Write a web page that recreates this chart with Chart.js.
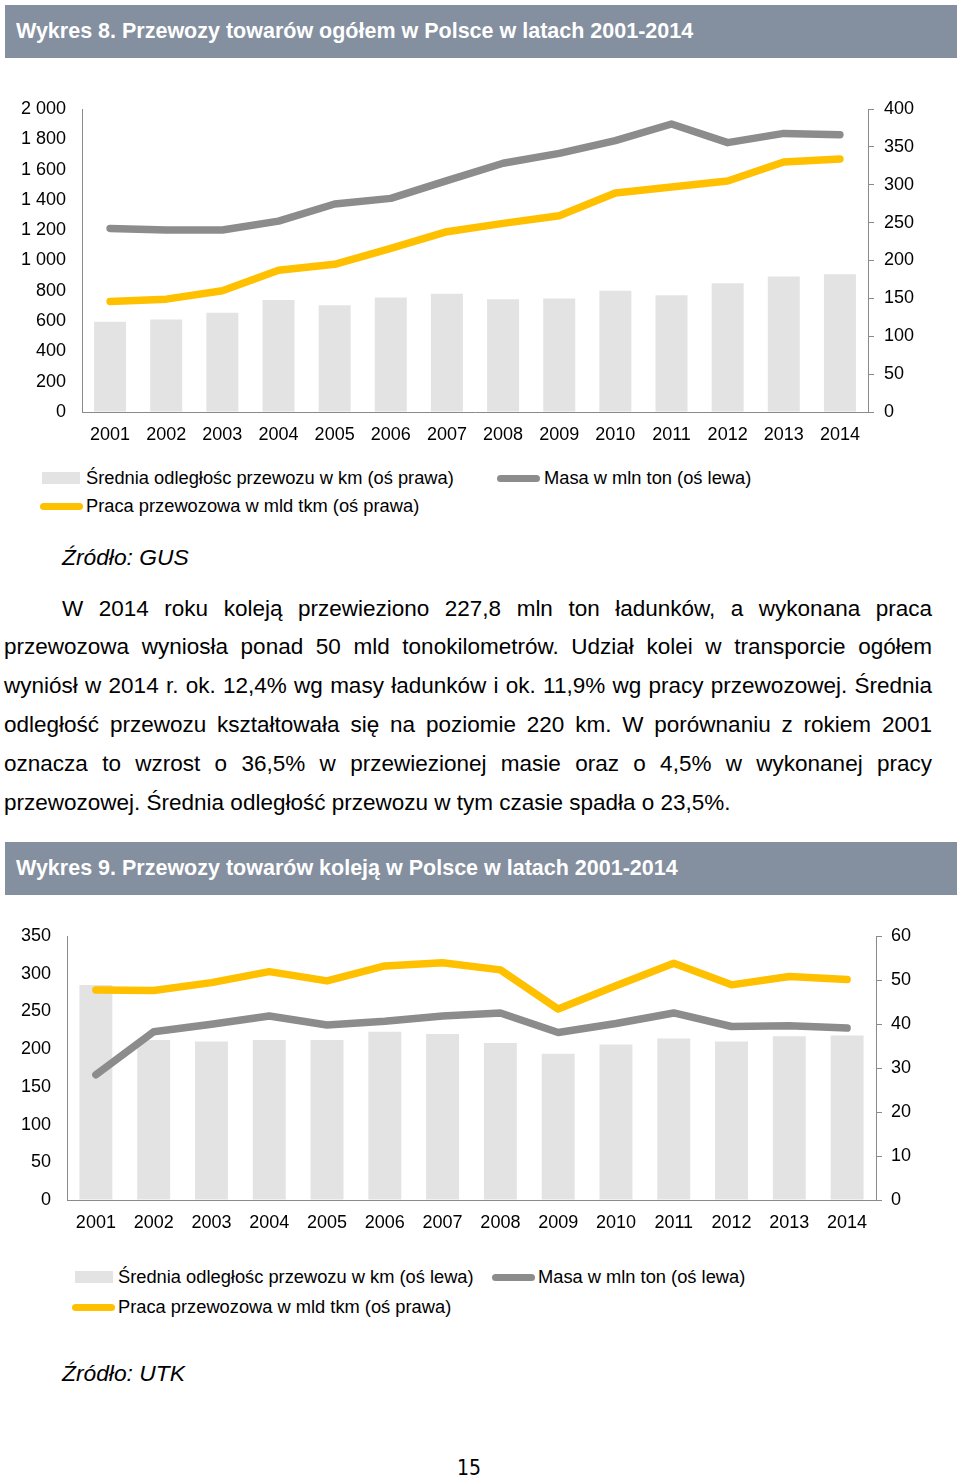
<!DOCTYPE html>
<html lang="pl">
<head>
<meta charset="UTF-8">
<title>Przewozy towarów 2001-2014</title>
<script src="https://cdn.jsdelivr.net/npm/chart.js"></script>
<style>
  html, body { margin: 0; padding: 0; background: #fff; }
  body { position: relative; width: 960px; height: 1478px; overflow: hidden;
         font-family: "Liberation Sans", Arial, sans-serif; color: #000; }
  .band { position: absolute; left: 5px; width: 952px; height: 53px; background: #848f9f;
          color: #fff; font-weight: bold; font-size: 21.5px; line-height: 53px;
          padding-left: 11px; box-sizing: border-box; }
  .box { position: absolute; left: 0; width: 960px; }
  .box canvas { display: block; }
  .legend-item { position: absolute; font-size: 18.3px; line-height: 20px; white-space: nowrap; }
  .sw { position: absolute; }
  .src { position: absolute; left: 62px; font-style: italic; font-size: 22.8px; }
  .para div { position: absolute; font-size: 22.5px; line-height: 24px; white-space: nowrap;
              text-align: justify; text-align-last: justify; }
  .para div.last { text-align-last: left; }
  .pnum { position: absolute; left: 457px; top: 1456px; font-size: 21px;
          font-family: "Liberation Sans Narrow", "DejaVu Sans Condensed", sans-serif; }
</style>
</head>
<body>

<div class="band" style="top:5px">Wykres 8. Przewozy towarów ogółem w Polsce w latach 2001-2014</div>
<div class="box" style="top:90px;height:360px"><canvas id="chart1" width="960" height="360"></canvas></div>
<div id="legend1"></div>
<div class="src" style="top:544px">Źródło: GUS</div>

<div class="para">
  <div style="left:62px;width:870px;top:597px">W 2014 roku koleją przewieziono 227,8 mln ton ładunków, a wykonana praca</div>
  <div style="left:4px;width:928px;top:635px">przewozowa wyniosła ponad 50 mld tonokilometrów. Udział kolei w transporcie ogółem</div>
  <div style="left:4px;width:928px;top:674px">wyniósł w 2014 r. ok. 12,4% wg masy ładunków i ok. 11,9% wg pracy przewozowej. Średnia</div>
  <div style="left:4px;width:928px;top:713px">odległość przewozu kształtowała się na poziomie 220 km. W porównaniu z rokiem 2001</div>
  <div style="left:4px;width:928px;top:752px">oznacza to wzrost o 36,5% w przewiezionej masie oraz o 4,5% w wykonanej pracy</div>
  <div class="last" style="left:4px;top:791px">przewozowej. Średnia odległość przewozu w tym czasie spadła o 23,5%.</div>
</div>

<div class="band" style="top:842px">Wykres 9. Przewozy towarów koleją w Polsce w latach 2001-2014</div>
<div class="box" style="top:915px;height:330px"><canvas id="chart2" width="960" height="330"></canvas></div>
<div id="legend2"></div>
<div class="src" style="top:1360px">Źródło: UTK</div>

<div class="pnum">15</div>

<script>
// lata
const years = ["2001","2002","2003","2004","2005","2006","2007","2008","2009","2010","2011","2012","2013","2014"];

// Wykres 8 - ogółem
const masaOgolem = [1212, 1201, 1201, 1260, 1373, 1410, 1527, 1642, 1707, 1791, 1901, 1778, 1839, 1830];
const pracaOgolem = [146, 149, 160, 187, 195, 216, 238, 249, 259, 289, 297, 305, 330, 334];
const odlegloscOgolem = [119, 122, 131, 148, 141, 151, 156, 149, 150, 160, 154, 170, 179, 182];
const leftAxis1 = { min: 0, max: 2000, step: 200 };
const rightAxis1 = { min: 0, max: 400, step: 50 };

// Wykres 9 - kolej
const masaKolej = [166, 223, 233, 244, 232, 237, 244, 248, 222, 234, 248, 230, 231, 228];
const pracaKolej = [47.7, 47.6, 49.4, 51.9, 49.8, 53.2, 53.9, 52.3, 43.4, 48.7, 53.8, 48.9, 50.8, 50.1];
const odlegloscKolej = [285, 212, 210, 212, 212, 223, 220, 208, 194, 206, 214, 210, 217, 218];
const leftAxis2 = { min: 0, max: 350, step: 50 };
const rightAxis2 = { min: 0, max: 60, step: 10 };

const BAR = "#e3e3e3", GREY = "#8c8c8c", YELLOW = "#ffc000", AXIS = "#8a8a8a";

Chart.defaults.font.family = '"Liberation Sans", Arial, sans-serif';
Chart.defaults.font.size = 18;
Chart.defaults.color = "#000";

function spaced(v) {
  return String(v).replace(/\B(?=(\d{3})+(?!\d))/g, " ");
}

function lineSet(label, data, color, axis, order) {
  return { type: "line", label: label, data: data, yAxisID: axis, order: order,
           borderColor: color, backgroundColor: color, borderWidth: 7.5,
           borderCapStyle: "round", borderJoinStyle: "round",
           pointRadius: 0, tension: 0, fill: false };
}
function barSet(label, data, axis) {
  return { type: "bar", label: label, data: data, yAxisID: axis, order: 5,
           backgroundColor: BAR, barPercentage: 0.57, categoryPercentage: 1 };
}

// y axes: fixed width, no extra label padding so the plot area is exactly where we want it
function fixY(w) {
  return function (s) { s.width = w; s.paddingTop = 0; s.paddingBottom = 0; };
}

function makeChart(id, datasets, opt) {
  return new Chart(document.getElementById(id).getContext("2d"), {
    data: { labels: years, datasets: datasets },
    options: {
      responsive: false, animation: false,
      layout: { padding: { top: opt.top, left: 0, right: 0, bottom: 0 } },
      plugins: { legend: { display: false }, tooltip: { enabled: false } },
      scales: {
        x: {
          grid: { drawOnChartArea: false, drawTicks: false },
          border: { display: true, color: AXIS },
          ticks: { padding: 12, maxRotation: 0, autoSkip: false },
          afterFit: function (s) { s.height = opt.xh; }
        },
        y: {
          position: "left", min: opt.l.min, max: opt.l.max,
          grid: { drawOnChartArea: false, drawTicks: false },
          border: { display: true, color: AXIS },
          ticks: { stepSize: opt.l.step, padding: 16, callback: function (v) { return spaced(v); } },
          afterFit: fixY(opt.lw)
        },
        y1: {
          position: "right", min: opt.r.min, max: opt.r.max,
          grid: { drawOnChartArea: false, drawTicks: true, tickLength: 6, color: AXIS },
          border: { display: true, color: AXIS },
          ticks: { stepSize: opt.r.step, padding: opt.rpad },
          afterFit: fixY(opt.rw)
        }
      }
    }
  });
}

const ds1 = [
  barSet("Średnia odległośc przewozu w km (oś prawa)", odlegloscOgolem, "y1"),
  lineSet("Masa w mln ton (oś lewa)", masaOgolem, GREY, "y", 1),
  lineSet("Praca przewozowa w mld tkm (oś prawa)", pracaOgolem, YELLOW, "y1", 2)
];
const ds2 = [
  barSet("Średnia odległośc przewozu w km (oś lewa)", odlegloscKolej, "y"),
  lineSet("Masa w mln ton (oś lewa)", masaKolej, GREY, "y", 2),
  lineSet("Praca przewozowa w mld tkm (oś prawa)", pracaKolej, YELLOW, "y1", 1)
];

makeChart("chart1", ds1, { top: 19, xh: 38, lw: 82, rw: 92, rpad: 10, l: leftAxis1, r: rightAxis1 });
makeChart("chart2", ds2, { top: 21, xh: 45, lw: 67, rw: 84, rpad: 9, l: leftAxis2, r: rightAxis2 });

// legenda w HTML, etykiety i kolory z datasetów
function legend(el, datasets, spots) {
  const box = document.getElementById(el);
  datasets.forEach(function (d, i) {
    const p = spots[i];
    const sw = document.createElement("div");
    sw.className = "sw";
    if (d.type === "bar") {
      sw.style.cssText = "left:" + p.x + "px;top:" + (p.y - 6) + "px;width:38px;height:12px;background:" + d.backgroundColor;
    } else {
      sw.style.cssText = "left:" + p.x + "px;top:" + (p.y - 3.5) + "px;width:43px;height:7px;border-radius:4px;background:" + d.borderColor;
    }
    box.appendChild(sw);
    const t = document.createElement("div");
    t.className = "legend-item";
    t.style.left = p.tx + "px";
    t.style.top = (p.y - 10) + "px";
    t.textContent = d.label;
    box.appendChild(t);
  });
}

legend("legend1", ds1, [
  { x: 42, tx: 86, y: 478 },
  { x: 497, tx: 544, y: 478 },
  { x: 40, tx: 86, y: 506 }
]);
legend("legend2", ds2, [
  { x: 75, tx: 118, y: 1277 },
  { x: 492, tx: 538, y: 1277 },
  { x: 72, tx: 118, y: 1307 }
]);
</script>
</body>
</html>
